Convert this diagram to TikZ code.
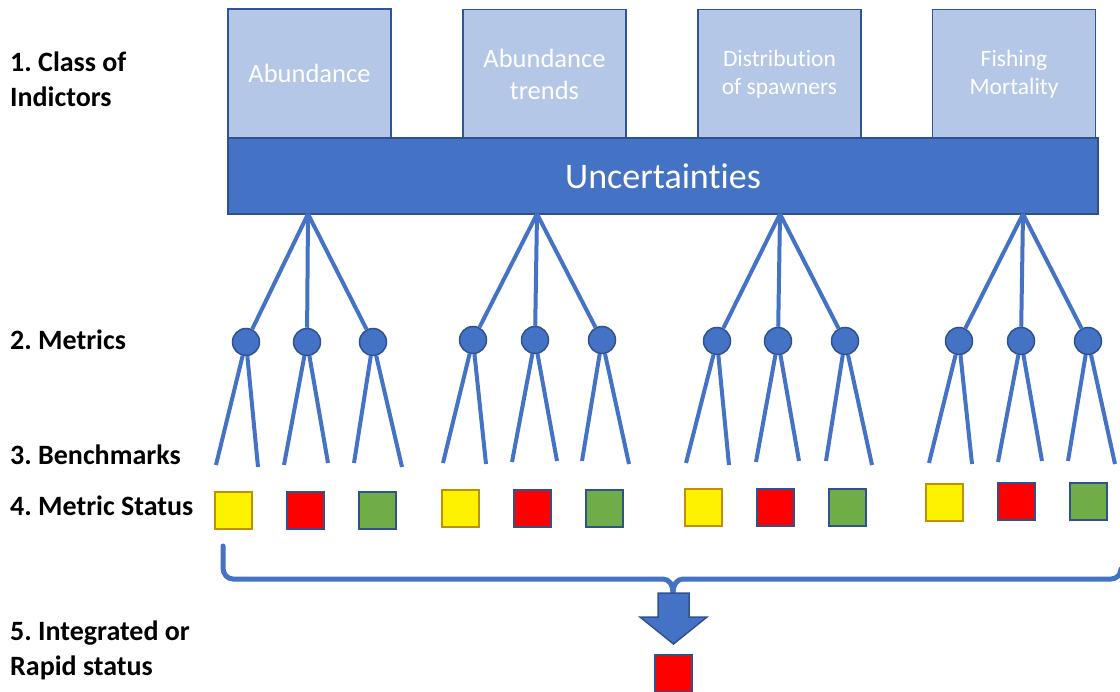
\documentclass[tikz,border=0pt]{standalone}
\usepackage{fontspec}
\setmainfont[Ligatures=NoCommon]{Carlito}
\frenchspacing
\definecolor{boxfill}{HTML}{B4C7E7}
\definecolor{boxedge}{HTML}{2F5597}
\definecolor{mainblue}{HTML}{4472C4}
\definecolor{darkedge}{HTML}{2F528F}
\definecolor{goldedge}{HTML}{BF9000}
\definecolor{statgreen}{HTML}{70AD47}
\begin{document}
\begin{tikzpicture}[x=1pt,y=-1pt,
  classbox/.style={draw=boxedge, fill=boxfill, line width=1.5pt, minimum width=163pt,
    minimum height=129pt, inner sep=0pt, text=white, align=center},
  bigfont/.style={font=\fontsize{26.5}{32}\selectfont},
  smallfont/.style={font=\fontsize{23.5}{28}\selectfont},
  bar/.style={draw=darkedge, fill=mainblue, line width=1.5pt, minimum width=870pt,
    minimum height=76pt, inner sep=0pt, text=white, font=\fontsize{36}{40}\selectfont},
  rowlabel/.style={anchor=base west, align=left, inner sep=0pt,
    font=\fontsize{28}{35}\selectfont\bfseries\frenchspacing},
  metric/.style={circle, draw=darkedge, fill=mainblue, line width=1.5pt,
    minimum size=27pt, inner sep=0pt},
  tree/.style={draw=mainblue, line width=4pt},
  status/.style={rectangle, minimum width=37pt, minimum height=37pt, inner sep=0pt,
    line width=2pt},
  yel/.style={status, fill=yellow, draw=goldedge},
  redsq/.style={status, fill=red, draw=darkedge},
  grnsq/.style={status, fill=statgreen, draw=darkedge},
  bracket/.style={draw=mainblue, line width=5pt, line cap=round},
  blockarrow/.style={fill=mainblue, draw=darkedge, line width=1.5pt, line join=miter}
]
\useasboundingbox (0,0) rectangle (1120,692);

% row labels (base anchor sits on the last line of a two-line label)
\node[rowlabel] (lab1) at (10,107) {1. Class of\\Indictors};
\node[rowlabel] (lab2) at (10,350) {2. Metrics};
\node[rowlabel] (lab3) at (10,465) {3. Benchmarks};
\node[rowlabel] (lab4) at (10,515) {4. Metric Status};
\node[rowlabel] (lab5) at (10,675) {5. Integrated or\\Rapid status};

% classes of indicators
\node[classbox, bigfont] (c1) at (309.5,73.5) {Abundance};
\node[classbox, bigfont] (c2) at (544.5,74) {Abundance\\trends};
\node[classbox, smallfont] (c3) at (779.5,74) {Distribution\\of spawners};
\node[classbox, smallfont] (c4) at (1014,74) {Fishing\\Mortality};

% uncertainty bar
\node[bar] (unc) at (663,176) {Uncertainties};

% branch points on the lower edge of the bar
\foreach \g/\ax in {1/308,2/537,3/780,4/1023}
  \coordinate (a\g) at (\ax,214);

% metrics with their benchmark ends
\foreach \n/\x/\y/\lx/\ly/\rx/\ry in {
  11/246/342/216/465/258/467, 12/307/342/284/465/328/463, 13/373/342/354/463/402/467,
  21/473/340/443/463/486/464, 22/535/340/512/462/557/461, 23/602/340/582/461/629/464,
  31/717/341/686/463/729/465, 32/778/341/756/462/799/461, 33/845/341/826/461/872/465,
  41/959/341/929/463/972/464, 42/1021/341/998/462/1042/461, 43/1088/341/1068/461/1115/464}
{
  \coordinate (l\n) at (\lx,\ly);
  \coordinate (r\n) at (\rx,\ry);
  \node[metric] (m\n) at (\x,\y) {};
}

\foreach \g in {1,2,3,4}
  \foreach \k in {1,2,3} {
    \draw[tree] (a\g) -- (m\g\k);
    \draw[tree] (m\g\k) -- (l\g\k);
    \draw[tree] (m\g\k) -- (r\g\k);
  }

% metric status
\foreach \n/\x/\y/\s in {
  11/233/511/yel, 12/305/511/redsq, 13/377.5/511/grnsq,
  21/460/509/yel, 22/532/508.5/redsq, 23/604.5/509/grnsq,
  31/703/507.5/yel, 32/775/507.5/redsq, 33/847.5/507.5/grnsq,
  41/944.5/502.5/yel, 42/1016/502/redsq, 43/1088.5/502/grnsq}
  \node[\s] (s\n) at (\x,\y) {};

% bracket gathering all statuses
\coordinate (bl) at (223,546);
\coordinate (bm) at (673,592);
\coordinate (br) at (1121,569);
\draw[bracket] (bl) -- (223,568) to[out=-90,in=180] (233,579) -- (663,579)
  to[out=0,in=90] (bm);
\draw[bracket] (bm) to[out=90,in=180] (683,579) -- (1111,579) to[out=0,in=-90] (br);

% integration arrow
\draw[blockarrow] (658,593) -- (689,593) -- (689,617) -- (707,617) -- (673.5,644)
  -- (640,617) -- (658,617) -- cycle;

% integrated status
\node[redsq] (final) at (673.5,673) {};
\end{tikzpicture}
\end{document}
